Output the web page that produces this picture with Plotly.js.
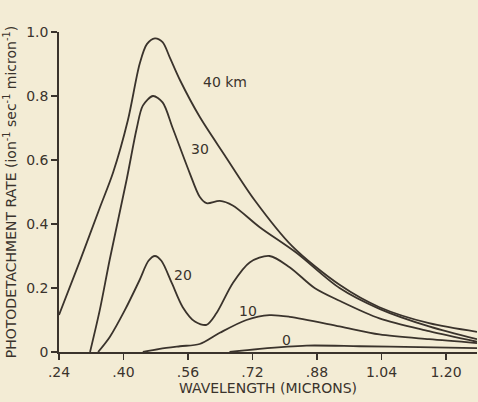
<!DOCTYPE html>
<html><head><meta charset="utf-8">
<script src="https://cdn.plot.ly/plotly-3.0.1.min.js"></script>
<style>html,body{margin:0;padding:0;background:#f3ecd5;}</style>
</head><body><div id="chart" style="width:478px;height:402px;"></div>
<script>
// Wavelength (microns) and photodetachment rate for each altitude
var wl40 = [0.24,0.292,0.341,0.374,0.411,0.440,0.458,0.478,0.497,0.515,0.540,0.589,0.651,0.725,0.819,0.936,1.035,1.158,1.277];
var rate40 = [0.116,0.285,0.45,0.56,0.725,0.90,0.962,0.98,0.968,0.92,0.85,0.735,0.615,0.475,0.33,0.21,0.14,0.09,0.063];
var wl30 = [0.317,0.341,0.366,0.408,0.433,0.448,0.473,0.497,0.522,0.564,0.589,0.606,0.639,0.671,0.738,0.829,0.936,1.035,1.158,1.277];
var rate30 = [0,0.13,0.29,0.54,0.70,0.77,0.80,0.78,0.70,0.56,0.485,0.465,0.472,0.458,0.39,0.31,0.20,0.135,0.08,0.04];
var wl20 = [0.337,0.366,0.403,0.440,0.462,0.478,0.494,0.520,0.547,0.577,0.606,0.630,0.671,0.713,0.762,0.812,0.874,0.936,1.035,1.158,1.277];
var rate20 = [0,0.047,0.13,0.225,0.285,0.30,0.285,0.215,0.14,0.095,0.085,0.12,0.215,0.28,0.30,0.265,0.20,0.16,0.105,0.065,0.032];
var wl10 = [0.448,0.490,0.540,0.589,0.639,0.705,0.762,0.812,0.936,1.035,1.158,1.277];
var rate10 = [0,0.01,0.018,0.025,0.06,0.10,0.115,0.11,0.08,0.055,0.04,0.028];
var wl0 = [0.663,0.738,0.854,0.985,1.134,1.277];
var rate0 = [0,0.01,0.02,0.018,0.015,0.012];
var xTicks = [0.24,0.40,0.56,0.72,0.88,1.04,1.20];
var xTickText = [".24",".40",".56",".72",".88","1.04","1.20"];
var yTicks = [0,0.2,0.4,0.6,0.8,1.0];
var yTickText = ["0","0.2","0.4","0.6","0.8","1.0"];

var ink = '#3a332c';
function tr(x,y){return {x:x,y:y,type:'scatter',mode:'lines',line:{color:ink,width:1.8,shape:'spline',smoothing:0.85},hoverinfo:'skip'};}
var data = [tr(wl40,rate40),tr(wl30,rate30),tr(wl20,rate20),tr(wl10,rate10),tr(wl0,rate0)];
var f = {family:'DejaVu Sans, sans-serif',size:14,color:ink};
var layout = {
  width:478,height:402,
  paper_bgcolor:'#f3ecd5',plot_bgcolor:'#f3ecd5',
  margin:{l:59,r:1,t:32,b:50},
  showlegend:false,
  font:f,
  xaxis:{range:[0.24,1.277],tickvals:xTicks,ticktext:xTickText,ticks:'outside',ticklen:6,tickwidth:1.5,tickcolor:ink,
    showline:true,linecolor:ink,linewidth:1.8,showgrid:false,zeroline:false,tickfont:f,
    title:{text:'WAVELENGTH (MICRONS)',font:f,standoff:4}},
  yaxis:{range:[0,1.0],tickvals:yTicks,ticktext:yTickText,ticks:'outside',ticklen:6,tickwidth:1.5,tickcolor:ink,
    showline:true,linecolor:ink,linewidth:1.8,showgrid:false,zeroline:false,tickfont:f,
    title:{text:'PHOTODETACHMENT RATE (ion<sup>-1</sup> sec<sup>-1</sup> micron<sup>-1</sup>)',font:f,standoff:6}},
  annotations:[
    {x:0.651,y:0.845,text:'40 km',showarrow:false,font:f},
    {x:0.589,y:0.635,text:'30',showarrow:false,font:f},
    {x:0.547,y:0.24,text:'20',showarrow:false,font:f},
    {x:0.708,y:0.128,text:'10',showarrow:false,font:f},
    {x:0.804,y:0.038,text:'0',showarrow:false,font:f}
  ]
};
Plotly.newPlot('chart',data,layout,{staticPlot:true,displayModeBar:false});
</script></body></html>
